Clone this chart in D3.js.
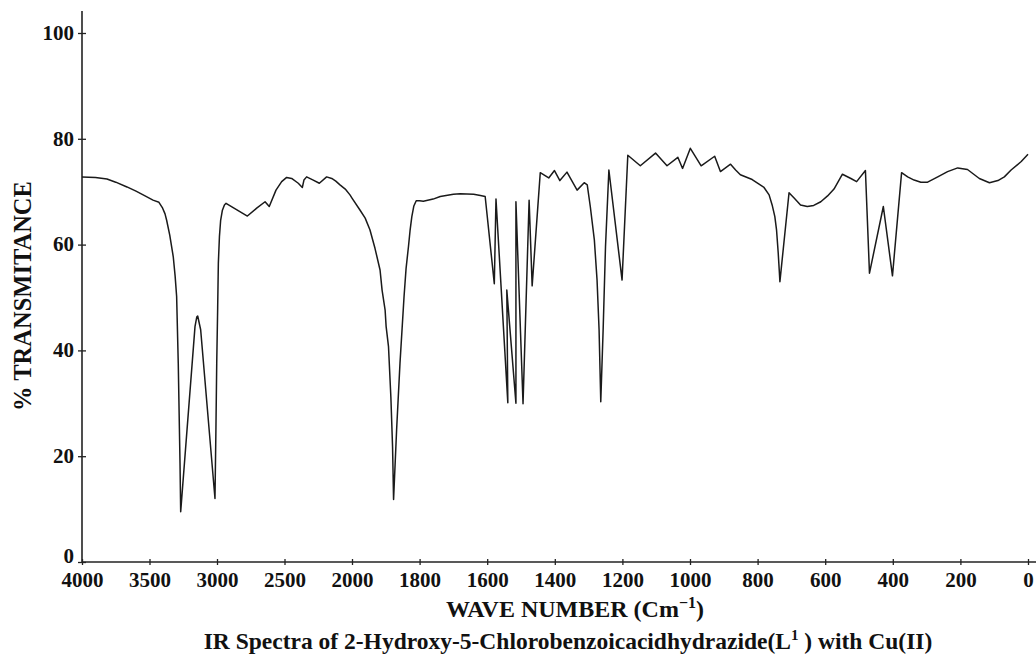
<!DOCTYPE html>
<html>
<head>
<meta charset="utf-8">
<script src="https://cdn.jsdelivr.net/npm/d3@7"></script>
<style>
  body { margin: 0; background: #fff; }
  text { font-family: "Liberation Serif", "Times New Roman", serif; font-weight: bold; fill: #111; }
</style>
</head>
<body>
<script>
// IR spectrum (wave number in cm-1, % transmittance)
var waveNumber = [4000, 3900, 3815, 3750, 3667, 3600, 3540, 3474, 3430, 3405, 3385, 3373, 3350,
  3324, 3310, 3299, 3287, 3274, 3269,
  3163, 3150, 3143, 3121, 3015, 3008, 3002, 2995, 2990, 2982, 2973, 2960, 2945, 2933,
  2775, 2706, 2644, 2613, 2563, 2521, 2484, 2447, 2398, 2368, 2356, 2336, 2287, 2242, 2188,
  2150, 2120, 2089, 2050, 2015, 2000, 1976, 1961, 1947, 1932, 1917, 1911, 1902, 1899, 1892,
  1885, 1880, 1877, 1868, 1858, 1846, 1840, 1833, 1828, 1823, 1817, 1810, 1800, 1789, 1760,
  1739, 1700, 1680, 1640, 1620, 1606,
  1579, 1574, 1539, 1542, 1515, 1515, 1494, 1476, 1467, 1443, 1418, 1401, 1385, 1364, 1334,
  1313, 1304, 1295, 1283, 1275, 1269, 1264, 1257, 1250, 1240, 1201, 1184, 1147, 1102, 1068,
  1036, 1022, 999, 967, 927, 910, 880, 865, 851, 816, 781, 766, 757, 749, 744, 739, 736, 734,
  707, 692, 673, 653, 634, 613, 593, 574, 549, 524, 507, 481, 469, 428, 401, 374, 356, 337,
  317, 297, 267, 238, 208, 179, 144, 114, 89, 70, 50, 20, 0];
var transmittance = [72.8, 72.7, 72.4, 71.8, 70.9, 70.1, 69.3, 68.4, 68.0, 67.0, 65.8, 64.6, 61.8,
  57.7, 54.0, 50.2, 37.6, 18.7, 9.5,
  44.5, 46.3, 46.5, 43.9, 12.0, 25.0, 37.6, 48.0, 56.5, 61.5, 64.6, 66.5, 67.5, 67.8,
  65.4, 66.9, 68.1, 67.2, 70.3, 71.9, 72.7, 72.5, 71.6, 70.8, 72.2, 72.8, 72.2, 71.6, 72.8,
  72.5, 72.0, 71.3, 70.5, 69.4, 68.8, 66.5, 65.0, 62.8, 59.3, 55.2, 51.4, 47.6, 44.5, 40.7,
  31.2, 21.8, 11.8, 25.0, 37.6, 50.2, 55.5, 59.6, 62.8, 65.3, 67.3, 68.3, 68.3, 68.2, 68.6,
  69.1, 69.5, 69.6, 69.5, 69.3, 69.1,
  52.6, 68.6, 30.1, 51.4, 30.0, 68.1, 29.9, 68.4, 52.2, 73.6, 72.6, 74.0, 72.1, 73.7, 70.3,
  71.7, 71.3, 67.2, 60.9, 53.3, 43.9, 30.3, 43.9, 59.6, 74.1, 53.3, 76.9, 74.9, 77.3, 74.9,
  76.5, 74.4, 78.2, 74.9, 76.7, 73.8, 75.2, 74.1, 73.2, 72.3, 70.8, 69.4, 67.5, 65.3, 62.8, 58.4, 55.2, 53.0,
  69.8, 68.8, 67.5, 67.2, 67.4, 68.1, 69.2, 70.5, 73.3, 72.5, 71.9, 74.0, 54.6, 67.2, 54.1, 73.6, 72.8, 72.2,
  71.8, 71.8, 72.8, 73.8, 74.5, 74.2, 72.5, 71.7, 72.1, 72.8, 74.1, 75.7, 77.1];

var xTicks = [4000, 3500, 3000, 2500, 2000, 1800, 1600, 1400, 1200, 1000, 800, 600, 400, 200, 0];
var yTicks = [0, 20, 40, 60, 80, 100];

var svgWidth = 1036;
var svgHeight = 659;

var svg = d3.select("body")
  .append("svg")
  .attr("width", svgWidth)
  .attr("height", svgHeight);

// the axis changes step at 2000 (500 per tick above, 200 per tick below)
var x = d3.scaleLinear()
  .domain([4000, 2000, 0])
  .range([82, 352, 1028]);

var y = d3.scaleLinear()
  .domain([0, 100])
  .range([562, 33]);

var spectrum = waveNumber.map(function (w, i) {
  return { w: w, t: transmittance[i] };
});

// axes
var xAxis = svg.append("g")
  .attr("transform", "translate(0,562)")
  .call(d3.axisBottom(x).tickValues(xTicks).tickSize(3).tickSizeOuter(0).tickFormat(d3.format("d")));
xAxis.select(".domain").remove();
xAxis.append("line")
  .attr("x1", 82).attr("x2", 1036)
  .attr("stroke", "#222").attr("stroke-width", 1.6);
xAxis.selectAll(".tick line").attr("y1", -3).attr("y2", 3).attr("stroke", "#222").attr("stroke-width", 1.3);
xAxis.selectAll(".tick text")
  .attr("y", 25)
  .attr("dy", 0)
  .style("font-size", "21px")
  .style("font-family", "Liberation Serif, serif")
  .style("font-weight", "bold")
  .attr("fill", "#111");

var yAxis = svg.append("g")
  .attr("transform", "translate(82,0)")
  .call(d3.axisLeft(y).tickValues(yTicks).tickSize(3).tickSizeOuter(0));
yAxis.select(".domain").remove();
yAxis.append("line")
  .attr("y1", 11).attr("y2", 562)
  .attr("stroke", "#222").attr("stroke-width", 1.6);
yAxis.selectAll(".tick line").attr("x1", -4).attr("x2", 4).attr("stroke", "#222").attr("stroke-width", 1.3);
yAxis.selectAll(".tick text")
  .attr("x", -8)
  .attr("dy", "0.3em")
  .style("font-size", "21px")
  .style("font-family", "Liberation Serif, serif")
  .style("font-weight", "bold")
  .attr("fill", "#111");
// lift the 0 a little so it clears 4000
yAxis.selectAll(".tick text").filter(function (d) { return d === 0; }).attr("dy", 0);

// spectrum line
var line = d3.line()
  .x(function (d) { return x(d.w); })
  .y(function (d) { return y(d.t); });

svg.append("path")
  .datum(spectrum)
  .attr("d", line)
  .attr("fill", "none")
  .attr("stroke", "#1a1a1a")
  .attr("stroke-width", 1.5)
  .attr("stroke-linejoin", "round");

// labels
svg.append("text")
  .attr("transform", "translate(31,296) rotate(-90)")
  .attr("text-anchor", "middle")
  .style("font-size", "24.5px")
  .text("% TRANSMITANCE");

var xLabel = svg.append("text")
  .attr("x", 575)
  .attr("y", 617)
  .attr("text-anchor", "middle")
  .style("font-size", "24px");
xLabel.append("tspan").text("WAVE NUMBER (Cm");
xLabel.append("tspan").attr("dy", -9).style("font-size", "16px").text("\u22121");
xLabel.append("tspan").attr("dy", 9).text(")");

var caption = svg.append("text")
  .attr("x", 568)
  .attr("y", 649)
  .attr("text-anchor", "middle")
  .style("font-size", "23.5px");
caption.append("tspan").text("IR Spectra of 2-Hydroxy-5-Chlorobenzoicacidhydrazide(L");
caption.append("tspan").attr("dy", -9).style("font-size", "15px").text("1");
caption.append("tspan").attr("dy", 9).text(" ) with Cu(II)");
</script>
</body>
</html>
